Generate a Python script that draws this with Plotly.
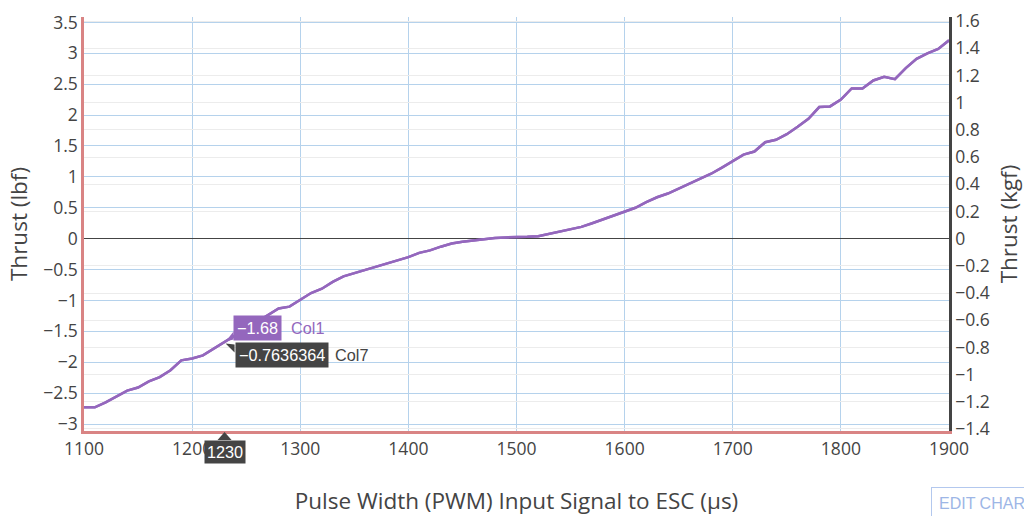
import plotly.graph_objects as go

# ---- data ----
pwm = [1100, 1110, 1120, 1130, 1140, 1150, 1160, 1170, 1180, 1190,
       1200, 1210, 1220, 1230, 1240, 1250, 1260, 1270, 1280, 1290,
       1300, 1310, 1320, 1330, 1340, 1350, 1360, 1370, 1380, 1390,
       1400, 1410, 1420, 1430, 1440, 1450, 1460, 1470, 1480, 1490,
       1500, 1510, 1520, 1530, 1540, 1550, 1560, 1570, 1580, 1590,
       1600, 1610, 1620, 1630, 1640, 1650, 1660, 1670, 1680, 1690,
       1700, 1710, 1720, 1730, 1740, 1750, 1760, 1770, 1780, 1790,
       1800, 1810, 1820, 1830, 1840, 1850, 1860, 1870, 1880, 1890, 1900]
thrust_lbf = [-2.73, -2.73, -2.65, -2.55, -2.46, -2.41, -2.31, -2.24, -2.13, -1.97,
              -1.94, -1.89, -1.78, -1.68, -1.57, -1.46, -1.35, -1.23, -1.13, -1.10,
              -0.99, -0.88, -0.81, -0.70, -0.61, -0.56, -0.50, -0.45, -0.40, -0.35,
              -0.30, -0.23, -0.19, -0.13, -0.08, -0.05, -0.03, 0.00, 0.01, 0.02,
              0.02, 0.03, 0.04, 0.08, 0.12, 0.15, 0.19, 0.25, 0.31, 0.37,
              0.44, 0.50, 0.59, 0.67, 0.73, 0.81, 0.90, 0.98, 1.05, 1.15,
              1.26, 1.36, 1.41, 1.56, 1.60, 1.69, 1.81, 1.94, 2.13, 2.14,
              2.25, 2.43, 2.43, 2.56, 2.62, 2.58, 2.76, 2.91, 3.00, 3.07, 3.21]
LBF_PER_KGF = 2.2
thrust_kgf = [v / LBF_PER_KGF for v in thrust_lbf]

hover_x = 1230
hover_col1 = -1.68
hover_col7 = -0.7636364

x_title = "Pulse Width (PWM) Input Signal to ESC (µs)"
y_title = "Thrust (lbf)"
y2_title = "Thrust (kgf)"

PURPLE = "#9467bd"
DARK = "#444444"
BLUE_GRID = "#b5d2ec"
GRAY_GRID = "#ececec"
RED_LINE = "#d98484"
FONT = "Open Sans, Noto Sans, sans-serif"
HFONT = "Arial, Liberation Sans, sans-serif"

y_range = [-3.113, 3.587]
y2_range = [y_range[0] / LBF_PER_KGF, y_range[1] / LBF_PER_KGF]

fig = go.Figure()
fig.add_trace(go.Scatter(x=pwm, y=thrust_lbf, name="Col1", mode="lines",
                         line=dict(color=PURPLE, width=2.5), yaxis="y"))
fig.add_trace(go.Scatter(x=pwm, y=thrust_kgf, name="Col7", mode="lines",
                         line=dict(color=PURPLE, width=2.5), yaxis="y2"))

fig.update_layout(
    width=1024, height=516,
    margin=dict(l=84, r=75, t=17, b=85, pad=0, autoexpand=False),
    paper_bgcolor="white", plot_bgcolor="white",
    showlegend=False,
    font=dict(family=FONT, color=DARK, size=17.5),
    xaxis=dict(range=[1100, 1900], dtick=100, tick0=1100, automargin=False,
               showgrid=True, gridcolor=BLUE_GRID, gridwidth=1,
               showline=True, linecolor=RED_LINE, linewidth=2.5,
               zeroline=False, ticks="",
               tickfont=dict(size=17.5, color=DARK),
               title=dict(text=x_title, font=dict(size=22.5, color=DARK), standoff=38)),
    yaxis=dict(range=y_range, dtick=0.5, tick0=0, automargin=False,
               showgrid=True, gridcolor=BLUE_GRID, gridwidth=1,
               showline=True, linecolor=RED_LINE, linewidth=2.5,
               zeroline=True, zerolinecolor=DARK, zerolinewidth=1,
               ticks="", tickfont=dict(size=17.5, color=DARK),
               title=dict(text=y_title, font=dict(size=22.5, color=DARK), standoff=10)),
    yaxis2=dict(range=y2_range, dtick=0.2, tick0=0, overlaying="y", side="right",
                automargin=False,
                showgrid=True, gridcolor=GRAY_GRID, gridwidth=1,
                showline=True, linecolor=DARK, linewidth=2.5,
                zeroline=True, zerolinecolor=DARK, zerolinewidth=1,
                ticks="", tickfont=dict(size=17.5, color=DARK),
                title=dict(text=y2_title, font=dict(size=22.5, color=DARK), standoff=14)),
)

# ---- static copy of the hover labels shown in the reference ----
annos = [
    dict(x=hover_x, y=hover_col1, xref="x", yref="y", text="−1.68", showarrow=False,
         xanchor="left", yanchor="middle", xshift=8, yshift=14, bgcolor=PURPLE,
         borderpad=3, font=dict(family=HFONT, size=16.25, color="white")),
    dict(x=hover_x, y=hover_col1, xref="x", yref="y", text="Col1", showarrow=False,
         xanchor="left", yanchor="middle", xshift=64, yshift=14,
         font=dict(family=HFONT, size=16.25, color=PURPLE)),
    dict(x=hover_x, y=hover_col1, xref="x", yref="y", text="−0.7636364", showarrow=False,
         xanchor="left", yanchor="middle", xshift=10, yshift=-13, bgcolor=DARK,
         borderpad=3, font=dict(family=HFONT, size=16.25, color="white")),
    dict(x=hover_x, y=hover_col1, xref="x", yref="y", text="Col7", showarrow=False,
         xanchor="left", yanchor="middle", xshift=108, yshift=-13,
         font=dict(family=HFONT, size=16.25, color=DARK)),
    dict(x=hover_x, y=0, xref="x", yref="paper", text="1230", showarrow=False,
         xanchor="center", yanchor="top", yshift=-9, bgcolor=DARK,
         borderpad=2, font=dict(family=HFONT, size=16.25, color="white")),
    dict(x=0.979, y=-0.176, xref="paper", yref="paper", text="EDIT CHART", showarrow=False,
         xanchor="left", yanchor="middle", bordercolor="#b3c8ee", borderwidth=1,
         borderpad=7, bgcolor="white",
         font=dict(family="Liberation Sans, Arial, sans-serif", size=16, color="#9db6e6")),
]
fig.update_layout(annotations=annos)

shapes = [
    dict(type="path", xref="x", yref="y", xsizemode="pixel", ysizemode="pixel",
         xanchor=hover_x, yanchor=hover_col1, path="M 1 1 L 9 3 L 9 11 Z",
         fillcolor=PURPLE, line=dict(width=0)),
    dict(type="path", xref="x", yref="y", xsizemode="pixel", ysizemode="pixel",
         xanchor=hover_x, yanchor=hover_col1, path="M 1 -1 L 10 -2 L 10 -10 Z",
         fillcolor=DARK, line=dict(width=0)),
    dict(type="path", xref="x", yref="paper", xsizemode="pixel", ysizemode="pixel",
         xanchor=hover_x, yanchor=0, path="M 0 -1 L -7 -9 L 7 -9 Z",
         fillcolor=DARK, line=dict(width=0)),
]
fig.update_layout(shapes=shapes)

fig.write_html("out.html", config={"displayModeBar": False},
               post_script="document.body.style.margin='0';document.body.style.overflow='hidden';")
